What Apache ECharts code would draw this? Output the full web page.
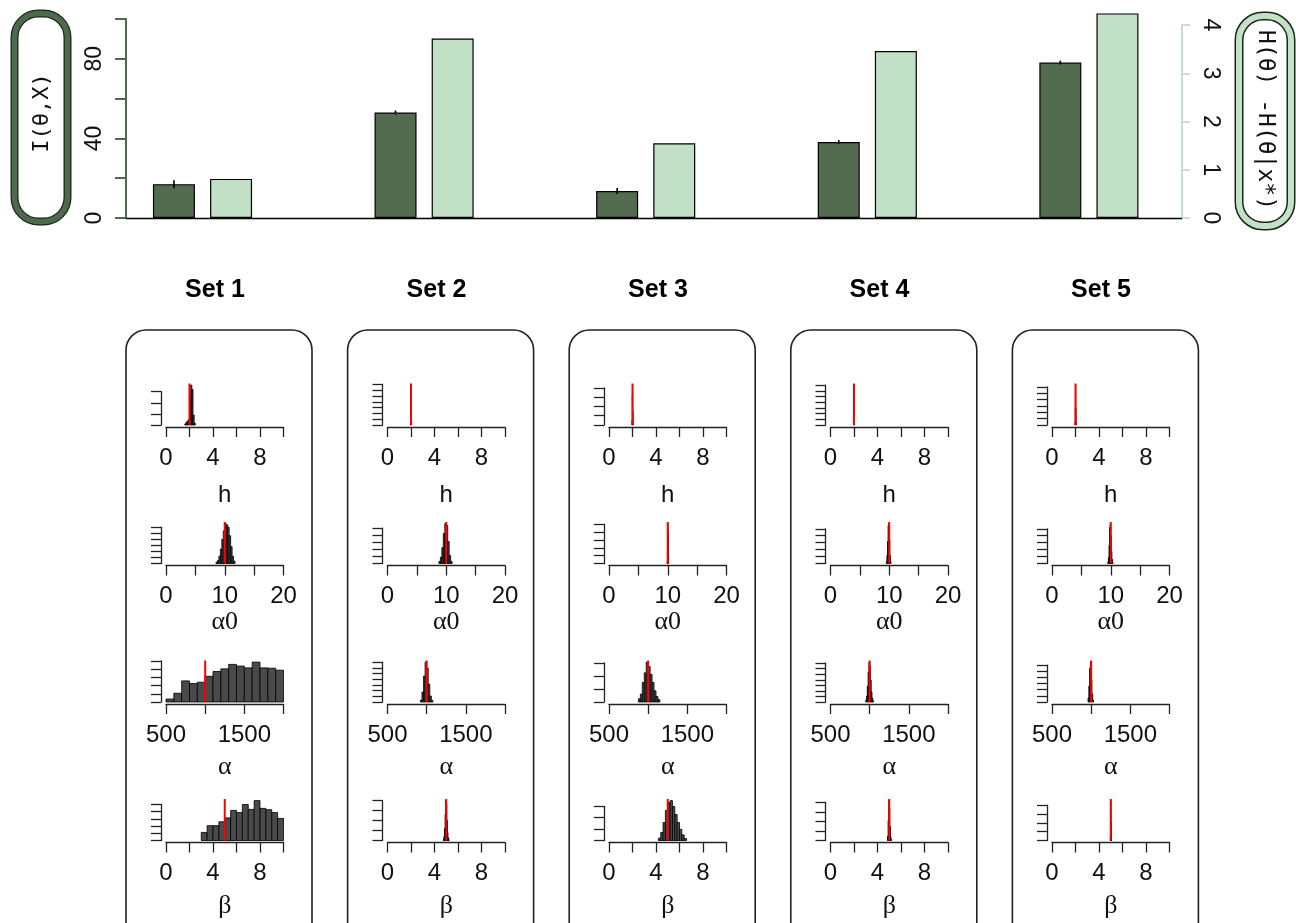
<!DOCTYPE html>
<html><head><meta charset="utf-8">
<script src="https://cdn.jsdelivr.net/npm/echarts@6/dist/echarts.min.js"></script>
<style>html,body{margin:0;padding:0;background:#fff}#c{width:1296px;height:923px}</style>
</head><body><div id="c"></div>
<script>
// ---------- data ----------
const setNames = ['Set 1', 'Set 2', 'Set 3', 'Set 4', 'Set 5'];
const setIndex = [0, 1, 2, 3, 4];
const mutualInfo = [17.0, 53.0, 13.6, 38.2, 78.1];          // I(θ,X), left axis
const mutualInfoErr = [2.0, 1.0, 1.5, 1.0, 1.0];
const entropyDrop = [0.81, 3.72, 1.55, 3.46, 4.24];         // H(θ)-H(θ|x*), right axis
const leftTicks = [0, 20, 40, 60, 80, 100];
const rightTicks = [0, 1, 2, 3, 4];

const paramNames = ['h', 'α0', 'α', 'β'];
const trueValues = [2, 10, 1000, 5];
const paramMin = [0, 0, 500, 0];
const paramMax = [10, 20, 2000, 10];
const paramTick = [2, 5, 500, 2];
const paramLabels = [[0, 4, 8], [0, 10, 20], [500, 1500], [0, 4, 8]];

// histograms: first bin edge, bin width, y tick step, counts (h, α0, α, β)
const set1BinStart = [1.6, 8.5, 500, 3.0];
const set1BinWidth = [0.1, 0.25, 100, 0.5];
const set1YTick = [1000, 500, 50, 50];
const set1Counts = [
  [100, 250, 350, 500, 2400, 3600, 3200, 900, 150],
  [100, 250, 600, 1200, 2000, 2700, 3300, 3200, 3000, 2300, 1400, 600, 200],
  [18, 53, 128, 112, 120, 156, 185, 201, 228, 218, 207, 242, 207, 205, 193],
  [56, 103, 103, 130, 157, 209, 194, 250, 216, 277, 223, 214, 194, 153]
];
const set2BinStart = [1.94, 8.75, 920, 4.75];
const set2BinWidth = [0.02, 0.25, 20, 0.05];
const set2YTick = [1000, 200, 200, 1000];
const set2Counts = [
  [300, 1800, 4500, 6900, 3600, 800],
  [60, 180, 450, 850, 1130, 1080, 620, 230, 60],
  [70, 350, 910, 1400, 1190, 630, 210, 56],
  [120, 400, 1200, 2600, 4000, 3600, 2000, 800, 280, 80]
];
const set3BinStart = [1.96, 9.9, 875, 4.2];
const set3BinWidth = [0.02, 0.05, 25, 0.2];
const set3YTick = [1000, 1000, 100, 100];
const set3Counts = [
  [500, 3200, 4300, 1500, 200],
  [200, 1800, 5100, 4000, 900],
  [25, 61, 150, 224, 307, 273, 212, 150, 86, 43, 18],
  [21, 70, 158, 263, 333, 350, 298, 228, 158, 98, 49, 18]
];
const set4BinStart = [1.96, 9.5, 950, 4.85];
const set4BinWidth = [0.02, 0.1, 10, 0.05];
const set4YTick = [1000, 400, 250, 1000];
const set4Counts = [
  [400, 2500, 7000, 2900, 300],
  [115, 460, 1265, 2185, 2300, 1380, 460, 115],
  [90, 270, 720, 1350, 1800, 1620, 990, 450, 180, 54],
  [420, 2100, 4200, 3360, 1470, 420, 126]
];
const set5BinStart = [1.96, 9.5, 960, 4.96];
const set5BinWidth = [0.02, 0.1, 10, 0.02];
const set5YTick = [1000, 400, 400, 1000];
const set5Counts = [
  [500, 2900, 6300, 2600, 300],
  [92, 345, 1035, 2070, 2300, 1610, 690, 230, 69],
  [260, 1040, 2210, 2600, 1430, 520, 130],
  [300, 2200, 4500, 2000, 350]
];

// ---------- layout / style ----------
const DARK = '#536b4f', LIGHT = '#c2e0c5';
const DARK_AXIS = '#4f694c', LIGHT_AXIS = '#c4e1c7';
const SANS = 'Liberation Sans', SERIF = 'Liberation Serif', MONO = 'DejaVu Sans Mono';
const TOP_L = 126, TOP_R = 1182, TOP_T = 19, TOP_B = 218, TOP_RT = 25;
const CAT_C0 = 202.5, CAT_STEP = 221.6;
const BAR_W = 42, BAR_GAP = 0.36;
const PX0 = 166, PSTEP = 221.5, PW = 117.5;
const RB0 = 425, RSTEP = 138.5, PH = 41.5;
const NAME_GAP = [56, 44, 50, 51];
const NAME_FONT = [SANS, SERIF, SERIF, SERIF];

const hist = [
  [set1BinStart, set1BinWidth, set1YTick, set1Counts],
  [set2BinStart, set2BinWidth, set2YTick, set2Counts],
  [set3BinStart, set3BinWidth, set3YTick, set3Counts],
  [set4BinStart, set4BinWidth, set4YTick, set4Counts],
  [set5BinStart, set5BinWidth, set5YTick, set5Counts]
];

const grids = [], xAxes = [], yAxes = [], series = [];

// top chart: grid 0 (bars), grid 1 (right axis)
grids.push({left: TOP_L, top: TOP_T, width: TOP_R - TOP_L, height: TOP_B - TOP_T});
grids.push({left: TOP_L, top: TOP_RT, width: TOP_R - TOP_L, height: TOP_B - TOP_RT});
xAxes.push({gridIndex: 0, type: 'value', min: (TOP_L - CAT_C0) / CAT_STEP, max: (TOP_R - CAT_C0) / CAT_STEP,
  axisLine: {show: true, onZero: false, lineStyle: {color: '#000', width: 1.3}},
  axisTick: {show: false}, axisLabel: {show: false}, splitLine: {show: false}});
xAxes.push({gridIndex: 1, type: 'value', min: 0, max: 1, show: false});
yAxes.push({gridIndex: 0, type: 'value', position: 'left', min: leftTicks[0], max: leftTicks[leftTicks.length - 1],
  interval: leftTicks[1] - leftTicks[0],
  axisLine: {show: true, onZero: false, lineStyle: {color: DARK_AXIS, width: 2}},
  axisTick: {show: true, length: 11, lineStyle: {color: DARK_AXIS, width: 2}},
  axisLabel: {rotate: 90, margin: 20, fontFamily: SANS, fontSize: 23, color: '#111',
    formatter: v => (v % 40 === 0 ? String(v) : '')},
  splitLine: {show: false}});
const rightMax = rightTicks[rightTicks.length - 1];
yAxes.push({gridIndex: 0, type: 'value', show: false, min: 0,
  max: rightMax * (TOP_B - TOP_T) / (TOP_B - TOP_RT)});
yAxes.push({gridIndex: 1, type: 'value', position: 'right', min: 0, max: rightMax, interval: 1,
  axisLine: {show: true, onZero: false, lineStyle: {color: LIGHT_AXIS, width: 2}},
  axisTick: {show: true, length: 8, lineStyle: {color: LIGHT_AXIS, width: 2}},
  axisLabel: {rotate: -90, margin: 17, fontFamily: SANS, fontSize: 23, color: '#111'},
  splitLine: {show: false}});

series.push({type: 'bar', xAxisIndex: 0, yAxisIndex: 0, barWidth: BAR_W, barGap: (BAR_GAP * 100) + '%',
  clip: false, data: setIndex.map((i, k) => [i, mutualInfo[k]]),
  itemStyle: {color: DARK, borderColor: '#000', borderWidth: 1.2}});
series.push({type: 'bar', xAxisIndex: 0, yAxisIndex: 1, barWidth: BAR_W, barGap: (BAR_GAP * 100) + '%',
  clip: false, data: setIndex.map((i, k) => [i, entropyDrop[k]]),
  itemStyle: {color: LIGHT, borderColor: '#000', borderWidth: 1.2}});
series.push({type: 'custom', xAxisIndex: 0, yAxisIndex: 0, z: 5, clip: false,
  data: setIndex.map((i, k) => [i, mutualInfo[k], mutualInfoErr[k]]),
  encode: {x: 0, y: 1},
  renderItem: (params, api) => {
    const i = api.value(0), v = api.value(1), e = api.value(2);
    const a = api.coord([i, v + e]), b = api.coord([i, v - e]);
    const dx = -(BAR_W + BAR_W * BAR_GAP) / 2;
    return {type: 'line', shape: {x1: a[0] + dx, y1: a[1], x2: b[0] + dx, y2: b[1]},
      style: {stroke: '#000', lineWidth: 1.6}};
  }});

function renderHist(params, api) {
  const x0 = api.value(0), x1 = api.value(1), c = api.value(2);
  const p0 = api.coord([x0, c]), p1 = api.coord([x1, 0]);
  return {type: 'rect', shape: {x: p0[0], y: p0[1], width: p1[0] - p0[0], height: p1[1] - p0[1]},
    style: {fill: '#4a4a4a', stroke: '#000', lineWidth: 0.8}};
}

// histogram panels
for (let k = 0; k < 5; k++) {
  const [starts, widths, yticks, counts] = hist[k];
  for (let r = 0; r < 4; r++) {
    const c = counts[r];
    const maxC = Math.max(...c);
    const yTop = maxC * 1.04;
    const topTick = Math.floor(yTop / yticks[r]) * yticks[r];
    const base = RB0 + RSTEP * r;
    const gh = PH * topTick / yTop;
    const gi = grids.length;
    grids.push({left: PX0 + PSTEP * k, width: PW, top: base - gh, height: gh});
    const xi = xAxes.length;
    const labs = paramLabels[r];
    xAxes.push({gridIndex: gi, type: 'value', min: paramMin[r], max: paramMax[r], interval: paramTick[r],
      offset: 2,
      axisLine: {show: true, onZero: false, lineStyle: {color: '#222', width: 1.3}},
      axisTick: {show: true, length: 10, lineStyle: {color: '#222', width: 1.3}},
      axisLabel: {margin: 19, fontFamily: SANS, fontSize: 24, color: '#111',
        formatter: v => (labs.indexOf(v) >= 0 ? String(v) : '')},
      splitLine: {show: false},
      name: paramNames[r], nameLocation: 'middle', nameGap: NAME_GAP[r],
      nameTextStyle: {fontFamily: NAME_FONT[r], fontSize: r === 0 ? 24 : 26, color: '#111'}});
    const yi = yAxes.length;
    yAxes.push({gridIndex: gi, type: 'value', min: 0, max: topTick, interval: yticks[r], offset: 5,
      axisLine: {show: true, onZero: false, lineStyle: {color: '#222', width: 1.3}},
      axisTick: {show: true, length: 10, lineStyle: {color: '#222', width: 1.3}},
      axisLabel: {show: false}, splitLine: {show: false}});
    series.push({type: 'custom', xAxisIndex: xi, yAxisIndex: yi, clip: false, silent: true,
      encode: {x: [0, 1], y: 2},
      data: c.map((v, j) => [starts[r] + j * widths[r], starts[r] + (j + 1) * widths[r], v]),
      renderItem: renderHist});
    series.push({type: 'line', xAxisIndex: xi, yAxisIndex: yi, clip: false, silent: true, z: 5,
      symbol: 'none', data: [[trueValues[r], 0], [trueValues[r], yTop]],
      lineStyle: {color: '#ff0000', width: 2}});
  }
}

// decorations
const graphic = [];
graphic.push({type: 'rect', shape: {x: 14.5, y: 13.5, width: 53, height: 208, r: 24},
  style: {fill: 'none', stroke: '#1c261b', lineWidth: 8}});
graphic.push({type: 'rect', shape: {x: 14.5, y: 13.5, width: 53, height: 208, r: 24},
  style: {fill: 'none', stroke: DARK_AXIS, lineWidth: 5.5}});
graphic.push({type: 'text', x: 42, y: 113, rotation: Math.PI / 2,
  style: {text: 'I(θ,X)', fontFamily: MONO, fontSize: 22, fill: '#111', align: 'center', verticalAlign: 'middle'}});
graphic.push({type: 'rect', shape: {x: 1239, y: 16, width: 52, height: 210, r: 24},
  style: {fill: 'none', stroke: '#1c261b', lineWidth: 9}});
graphic.push({type: 'rect', shape: {x: 1239, y: 16, width: 52, height: 210, r: 24},
  style: {fill: 'none', stroke: LIGHT_AXIS, lineWidth: 6}});
graphic.push({type: 'text', x: 1265, y: 120, rotation: -Math.PI / 2,
  style: {text: 'H(θ) -H(θ|x*)', fontFamily: MONO, fontSize: 23, fill: '#111', align: 'center', verticalAlign: 'middle'}});
for (let k = 0; k < 5; k++) {
  graphic.push({type: 'rect', shape: {x: 126 + CAT_STEP * k, y: 330, width: 186, height: 620, r: 20},
    style: {fill: 'none', stroke: '#222', lineWidth: 1.6}});
  graphic.push({type: 'text', x: 215 + PSTEP * k, y: 290,
    style: {text: setNames[k], fontFamily: SANS, fontWeight: 'bold', fontSize: 25, fill: '#000',
      align: 'center', verticalAlign: 'middle'}});
}

const chart = echarts.init(document.getElementById('c'));
chart.setOption({
  backgroundColor: '#fff', animation: false,
  grid: grids, xAxis: xAxes, yAxis: yAxes, series: series, graphic: graphic
});
</script></body></html>
